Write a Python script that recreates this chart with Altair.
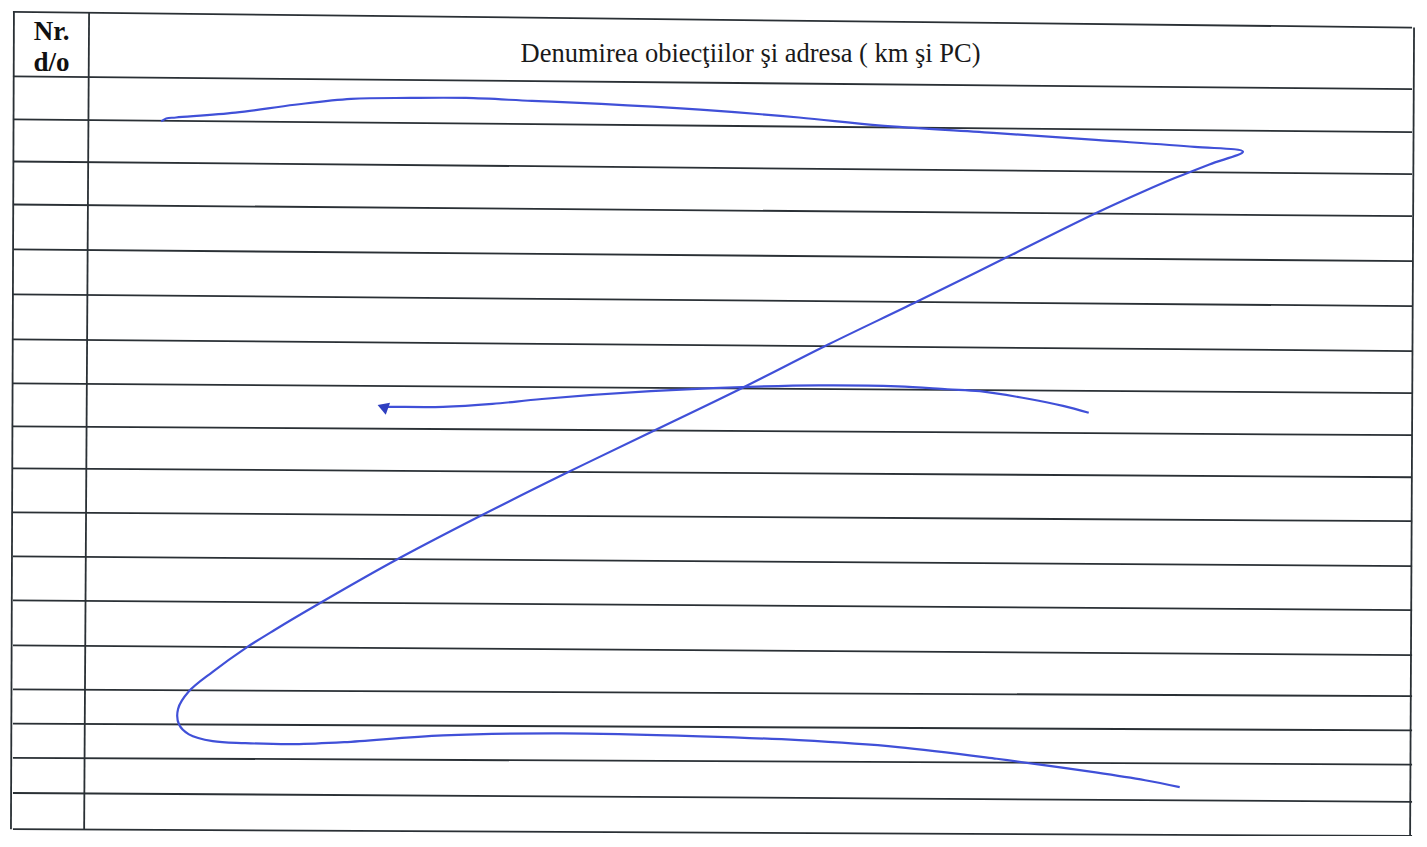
import altair as alt
import pandas as pd

# ---- data (page pixel coordinates) ----
# horizontal table lines: y at left border and y at right border
h_y_left = [4, 70, 114, 157, 201, 247, 293, 339, 384, 428, 471, 516, 561, 606, 652, 697, 732, 767, 803, 840]
h_y_right = [20, 83, 127, 170, 213, 259, 305, 351, 394, 437, 480, 525, 571, 616, 662, 704, 739, 774, 812, 847]
h_x_left = [5] * len(h_y_left)
h_x_right = [1420] * len(h_y_right)

# vertical table lines: (x, y) at top and bottom
v_x_top = [6, 82, 1422]
v_y_top = [4, 5, 20]
v_x_bot = [3, 77, 1418]
v_y_bot = [840, 840, 847]

# handwritten Z-stroke
z_x = [155, 160, 170, 230, 290, 347, 407, 463, 530, 600, 700, 800, 880, 1000, 1100, 1200, 1249,
       1215, 1180, 1150, 1100, 1010, 920, 830, 740, 650, 562, 475, 390, 310, 270, 240, 207, 183, 172, 173,
       183, 207, 240, 290, 340, 440, 560, 700, 800, 900, 1000, 1100, 1150, 1185]
z_y = [116, 113, 112, 107, 99, 93, 92, 92, 95, 98, 104, 112, 120, 128, 135, 142, 147,
       160, 174, 187, 210, 255, 300, 344, 390, 434, 477, 521, 566, 612, 636, 655, 679, 699, 717, 733,
       743, 750, 752, 753, 751, 744, 742, 745, 749, 756, 768, 782, 790, 797]

# handwritten arrow stroke (right to left)
a_x = [1093, 1067, 1033, 983, 950, 900, 820, 735, 650, 540, 490, 440, 390, 380]
a_y = [414, 407, 400, 392, 390, 387, 386, 388, 392, 400, 405, 408, 408, 408]
arrow_head_x = [379]
arrow_head_y = [408]

# header texts
hdr_text = ["Nr.", "d/o", "Denumirea obiecţiilor şi adresa ( km şi PC)"]
hdr_x = [44, 44, 751]
hdr_y = [33, 64, 55]
hdr_bold = ["bold", "bold", "normal"]

# ---- build tables ----
hdf = pd.DataFrame({"x": h_x_left, "y": h_y_left, "x2": h_x_right, "y2": h_y_right})
vdf = pd.DataFrame({"x": v_x_top, "y": v_y_top, "x2": v_x_bot, "y2": v_y_bot})
zdf = pd.DataFrame({"x": z_x, "y": z_y, "o": list(range(len(z_x)))})
adf = pd.DataFrame({"x": a_x, "y": a_y, "o": list(range(len(a_x)))})
ahdf = pd.DataFrame({"x": arrow_head_x, "y": arrow_head_y})
tdf = pd.DataFrame({"t": hdr_text, "x": hdr_x, "y": hdr_y, "w": hdr_bold})

xs = alt.Scale(domain=[0, 1427], nice=False, zero=False)
ys = alt.Scale(domain=[0, 847], nice=False, zero=False, reverse=True)
X = lambda f="x": alt.X(f"{f}:Q", scale=xs, axis=None)
Y = lambda f="y": alt.Y(f"{f}:Q", scale=ys, axis=None)

LINE = "#2a3035"
INK = "#4050d8"

hrules = alt.Chart(hdf).mark_rule(color=LINE, strokeWidth=1.8).encode(
    x=X(), y=Y(), x2="x2:Q", y2="y2:Q")
vrules = alt.Chart(vdf).mark_rule(color=LINE, strokeWidth=1.8).encode(
    x=X(), y=Y(), x2="x2:Q", y2="y2:Q")

zline = alt.Chart(zdf).mark_line(color=INK, strokeWidth=2.2, interpolate="catmull-rom").encode(
    x=X(), y=Y(), order="o:Q")
aline = alt.Chart(adf).mark_line(color=INK, strokeWidth=2.2, interpolate="catmull-rom").encode(
    x=X(), y=Y(), order="o:Q")
ahead = alt.Chart(ahdf).mark_point(shape="triangle-left", filled=True, color="#2f3fc0",
                                   size=160, opacity=1, angle=20).encode(x=X(), y=Y())

texts_bold = alt.Chart(tdf[tdf.w == "bold"]).mark_text(
    font="Liberation Serif", fontSize=27, fontWeight="bold", color="#111111",
    align="center", baseline="alphabetic").encode(x=X(), y=Y(), text="t:N")
texts_norm = alt.Chart(tdf[tdf.w == "normal"]).mark_text(
    font="Liberation Serif", fontSize=26.5, color="#1a1a1a",
    align="center", baseline="alphabetic").encode(x=X(), y=Y(), text="t:N")

chart = alt.layer(hrules, vrules, zline, aline, ahead, texts_bold, texts_norm).properties(
    width=1411, height=828, autosize="none", padding=0, background="white"
).configure_view(stroke=None)

chart.save("out.html", embed_options={"renderer": "svg", "actions": False})
